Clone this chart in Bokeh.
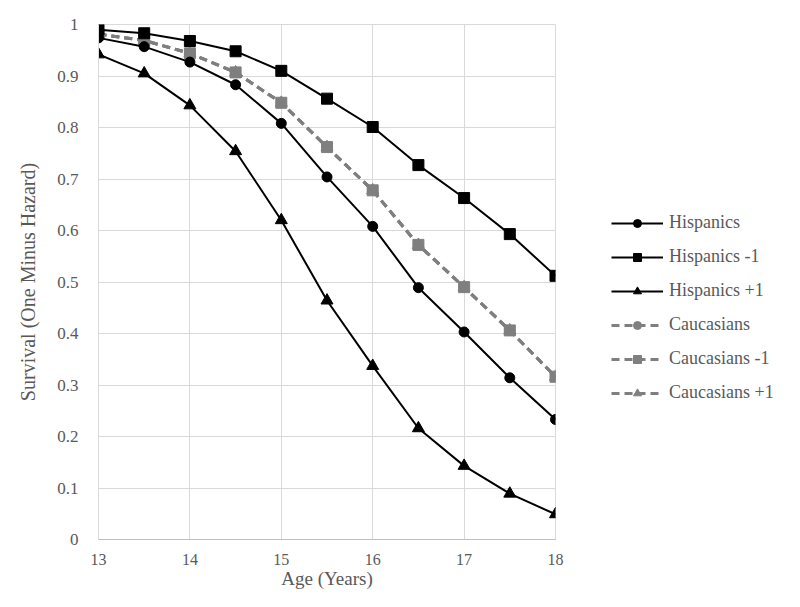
from bokeh.plotting import figure
from bokeh.models import Legend, LegendItem, FixedTicker
from bokeh.layouts import row
from bokeh.embed import file_html
from bokeh.resources import INLINE

ages = [13, 13.5, 14, 14.5, 15, 15.5, 16, 16.5, 17, 17.5, 18]
hisp = [0.974, 0.957, 0.927, 0.883, 0.808, 0.704, 0.608, 0.489, 0.403, 0.314, 0.233]
hisp_m1 = [0.990, 0.983, 0.968, 0.948, 0.910, 0.856, 0.801, 0.727, 0.663, 0.593, 0.512]
hisp_p1 = [0.942, 0.905, 0.843, 0.754, 0.620, 0.464, 0.337, 0.216, 0.143, 0.089, 0.049]
cauc = [0.981, 0.969, 0.944, 0.907, 0.848, 0.762, 0.678, 0.572, 0.490, 0.406, 0.316]
cauc_m1 = [0.981, 0.969, 0.944, 0.907, 0.848, 0.762, 0.678, 0.572, 0.490, 0.406, 0.316]
cauc_p1 = [0.981, 0.969, 0.944, 0.907, 0.848, 0.762, 0.678, 0.572, 0.490, 0.406, 0.316]

x_ticks = [13, 14, 15, 16, 17, 18]
x_tick_labels = ["13", "14", "15", "16", "17", "18"]
y_ticks = [0, 0.1, 0.2, 0.3, 0.4, 0.5, 0.6, 0.7, 0.8, 0.9, 1.0]
y_tick_labels = ["0", "0.1", "0.2", "0.3", "0.4", "0.5", "0.6", "0.7", "0.8", "0.9", "1"]

FONT = "Liberation Serif"
TXT = "#595959"
GRID = "#d9d9d9"
BLACK = "#000000"
GRAY = "#7f7f7f"

MAIN_W = 575
p = figure(width=MAIN_W, height=591, output_backend="svg", toolbar_location=None,
           x_range=(13, 18), y_range=(0, 1),
           min_border_left=98, min_border_right=20, min_border_top=24, min_border_bottom=45)
p.outline_line_color = GRID
p.background_fill_color = "white"
p.border_fill_color = "white"

p.xaxis.ticker = FixedTicker(ticks=x_ticks)
p.yaxis.ticker = FixedTicker(ticks=y_ticks)
p.xaxis.major_label_overrides = {t: l for t, l in zip(x_ticks, x_tick_labels)}
p.yaxis.major_label_overrides = {t: l for t, l in zip(y_ticks, y_tick_labels)}
for ax in (p.xaxis, p.yaxis):
    ax.major_label_text_font = FONT
    ax.major_label_text_font_size = "17px"
    ax.major_label_text_color = TXT
    ax.axis_label_text_font = FONT
    ax.axis_label_text_font_size = "20px"
    ax.axis_label_text_font_style = "normal"
    ax.axis_label_text_color = TXT
    ax.major_tick_line_color = None
    ax.minor_tick_line_color = None
    ax.axis_line_color = GRID
p.xaxis.axis_line_color = "#bfbfbf"
p.xaxis.major_label_text_font_size = "16px"
p.xaxis.axis_label_text_font_size = "19px"
p.xaxis.axis_label = "Age (Years)"
p.yaxis.axis_label = "Survival (One Minus Hazard)"
p.xaxis.major_label_standoff = 8
p.yaxis.major_label_standoff = 14
p.xaxis.axis_label_standoff = 0
p.yaxis.axis_label_standoff = 15
p.xgrid.grid_line_color = GRID
p.ygrid.grid_line_color = GRID
p.xgrid.ticker = FixedTicker(ticks=x_ticks)
p.ygrid.ticker = FixedTicker(ticks=y_ticks)

# legend lives in a side figure so it can sit outside the plot frame;
# its range (0..1) keeps the series themselves out of view there
lg = figure(width=784 - MAIN_W, height=591, output_backend="svg", toolbar_location=None,
            x_axis_type=None, y_axis_type=None, x_range=(0, 1), y_range=(0, 1),
            min_border=0)
lg.outline_line_color = None
lg.grid.visible = False
lg.background_fill_color = "white"
lg.border_fill_color = "white"

items = {}

def add(name, ys, color, marker, dash, lw, size):
    p.line(ages, ys, line_color=color, line_width=lw, line_dash=dash)
    p.scatter(ages, ys, marker=marker, size=size, fill_color=color, line_color=color)
    l2 = lg.line(ages, ys, line_color=color, line_width=lw, line_dash=dash)
    m2 = lg.scatter(ages, ys, marker=marker, size=size, fill_color=color, line_color=color)
    items[name] = LegendItem(label=name, renderers=[l2, m2])

add("Caucasians", cauc, GRAY, "circle", "8 5", 3, 10)
add("Caucasians +1", cauc_p1, GRAY, "triangle", "8 5", 3, 12)
add("Caucasians -1", cauc_m1, GRAY, "square", "8 5", 3, 11)
add("Hispanics", hisp, BLACK, "circle", "solid", 2, 10)
add("Hispanics -1", hisp_m1, BLACK, "square", "solid", 2, 11)
add("Hispanics +1", hisp_p1, BLACK, "triangle", "solid", 2, 12)

order = ["Hispanics", "Hispanics -1", "Hispanics +1", "Caucasians", "Caucasians -1", "Caucasians +1"]

legend = Legend(items=[items[n] for n in order], location=(611 - MAIN_W, 136),
                orientation="vertical",
                glyph_width=52, glyph_height=20, label_height=20, spacing=13,
                label_text_font=FONT, label_text_font_size="18px", label_text_color=TXT,
                label_standoff=6, padding=0, margin=0,
                border_line_color=None, background_fill_alpha=0)
lg.add_layout(legend, "center")

layout = row(p, lg, spacing=0)
open("out.html", "w").write(file_html(layout, INLINE))
